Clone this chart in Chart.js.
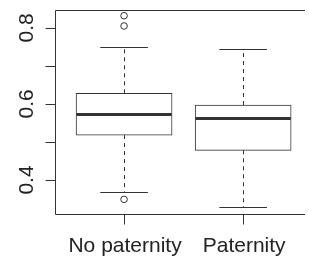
<!DOCTYPE html>
<html>
<head>
<meta charset="utf-8">
<script src="https://cdn.jsdelivr.net/npm/chart.js@4"></script>
<style>
  html, body { margin: 0; padding: 0; background: #fff; overflow: hidden; }
  canvas { display: block; }
</style>
</head>
<body>
<canvas id="chartBox" width="309" height="256"></canvas>
<script>
// values
const groups = ['No paternity', 'Paternity'];
const groupPos = [1, 2];
const q1 = [0.518, 0.478];
const median = [0.574, 0.562];
const q3 = [0.628, 0.597];
const whiskerLow = [0.369, 0.328];
const whiskerHigh = [0.751, 0.744];
const outlierPos = [1, 1, 1];
const outlierVal = [0.832, 0.805, 0.349];
const yTicks = [0.4, 0.5, 0.6, 0.7, 0.8];
const yTickLabels = ['0.4', '', '0.6', '', '0.8'];

const LINE = '#333';
const TEXT = '#222';
const FONT = '21px "Liberation Sans", Arial, sans-serif';

// whiskers, medians, frame and axes, all placed through the chart scales
const boxExtras = {
    id: 'boxExtras',
    afterDatasetsDraw(chart) {
        const ctx = chart.ctx;
        const x = chart.scales.x, y = chart.scales.y;
        const area = chart.chartArea;
        const px = v => Math.round(v) + 0.5;
        ctx.save();
        ctx.strokeStyle = LINE;
        ctx.lineWidth = 1;

        groupPos.forEach((g, i) => {
            const cx = px(x.getPixelForValue(g));
            const capL = x.getPixelForValue(g - 0.2), capR = x.getPixelForValue(g + 0.2);
            // dashed whiskers
            ctx.setLineDash([4, 4]);
            ctx.beginPath();
            ctx.moveTo(cx, y.getPixelForValue(q3[i]));
            ctx.lineTo(cx, y.getPixelForValue(whiskerHigh[i]));
            ctx.moveTo(cx, y.getPixelForValue(q1[i]));
            ctx.lineTo(cx, y.getPixelForValue(whiskerLow[i]));
            ctx.stroke();
            ctx.setLineDash([]);
            // caps
            ctx.beginPath();
            const yh = px(y.getPixelForValue(whiskerHigh[i]));
            const yl = px(y.getPixelForValue(whiskerLow[i]));
            ctx.moveTo(capL, yh); ctx.lineTo(capR, yh);
            ctx.moveTo(capL, yl); ctx.lineTo(capR, yl);
            ctx.stroke();
            // median
            ctx.lineWidth = 3;
            ctx.beginPath();
            const ym = Math.round(y.getPixelForValue(median[i])) + 0.5;
            ctx.moveTo(x.getPixelForValue(g - 0.4), ym);
            ctx.lineTo(x.getPixelForValue(g + 0.4), ym);
            ctx.stroke();
            ctx.lineWidth = 1;
        });

        // frame (right side falls outside the picture)
        const L = px(area.left), T = px(area.top), B = px(area.bottom);
        ctx.beginPath();
        ctx.moveTo(area.right + 1, T); ctx.lineTo(L, T); ctx.lineTo(L, B); ctx.lineTo(area.right + 1, B);
        ctx.stroke();

        // y ticks and rotated labels
        ctx.fillStyle = TEXT;
        ctx.font = FONT;
        yTicks.forEach((v, i) => {
            const ty = px(y.getPixelForValue(v));
            ctx.beginPath();
            ctx.moveTo(L - 10, ty); ctx.lineTo(L, ty);
            ctx.stroke();
            if (yTickLabels[i]) {
                ctx.save();
                ctx.translate(33, y.getPixelForValue(v));
                ctx.rotate(-Math.PI / 2);
                ctx.textAlign = 'center';
                ctx.textBaseline = 'alphabetic';
                ctx.fillText(yTickLabels[i], 0, 0);
                ctx.restore();
            }
        });

        // x ticks and group labels
        groupPos.forEach((g, i) => {
            const tx = px(x.getPixelForValue(g));
            ctx.beginPath();
            ctx.moveTo(tx, B); ctx.lineTo(tx, B + 10);
            ctx.stroke();
            ctx.textAlign = 'center';
            ctx.textBaseline = 'alphabetic';
            ctx.fillText(groups[i], x.getPixelForValue(g) + 1, 252);
        });
        ctx.restore();
    }
};

new Chart(document.getElementById('chartBox'), {
    type: 'bar',
    data: {
        datasets: [{
            type: 'bar',
            data: groupPos.map((g, i) => ({ x: g, y: [q1[i], q3[i]] })),
            backgroundColor: '#fff',
            borderColor: LINE,
            borderWidth: 1,
            borderSkipped: false,
            barThickness: 96,
            order: 2
        }, {
            type: 'scatter',
            data: outlierPos.map((g, i) => ({ x: g, y: outlierVal[i] })),
            pointRadius: 3.3,
            pointBackgroundColor: '#fff',
            pointBorderColor: LINE,
            pointBorderWidth: 1,
            order: 1
        }]
    },
    options: {
        responsive: false,
        animation: false,
        layout: { padding: { left: 55, top: 10, right: 1, bottom: 42 } },
        plugins: { legend: { display: false }, tooltip: { enabled: false } },
        scales: {
            x: { type: 'linear', min: 0.42, max: 2.511, offset: false, display: false },
            y: { type: 'linear', min: 0.3105, max: 0.847, display: false }
        }
    },
    plugins: [boxExtras]
});
</script>
</body>
</html>
